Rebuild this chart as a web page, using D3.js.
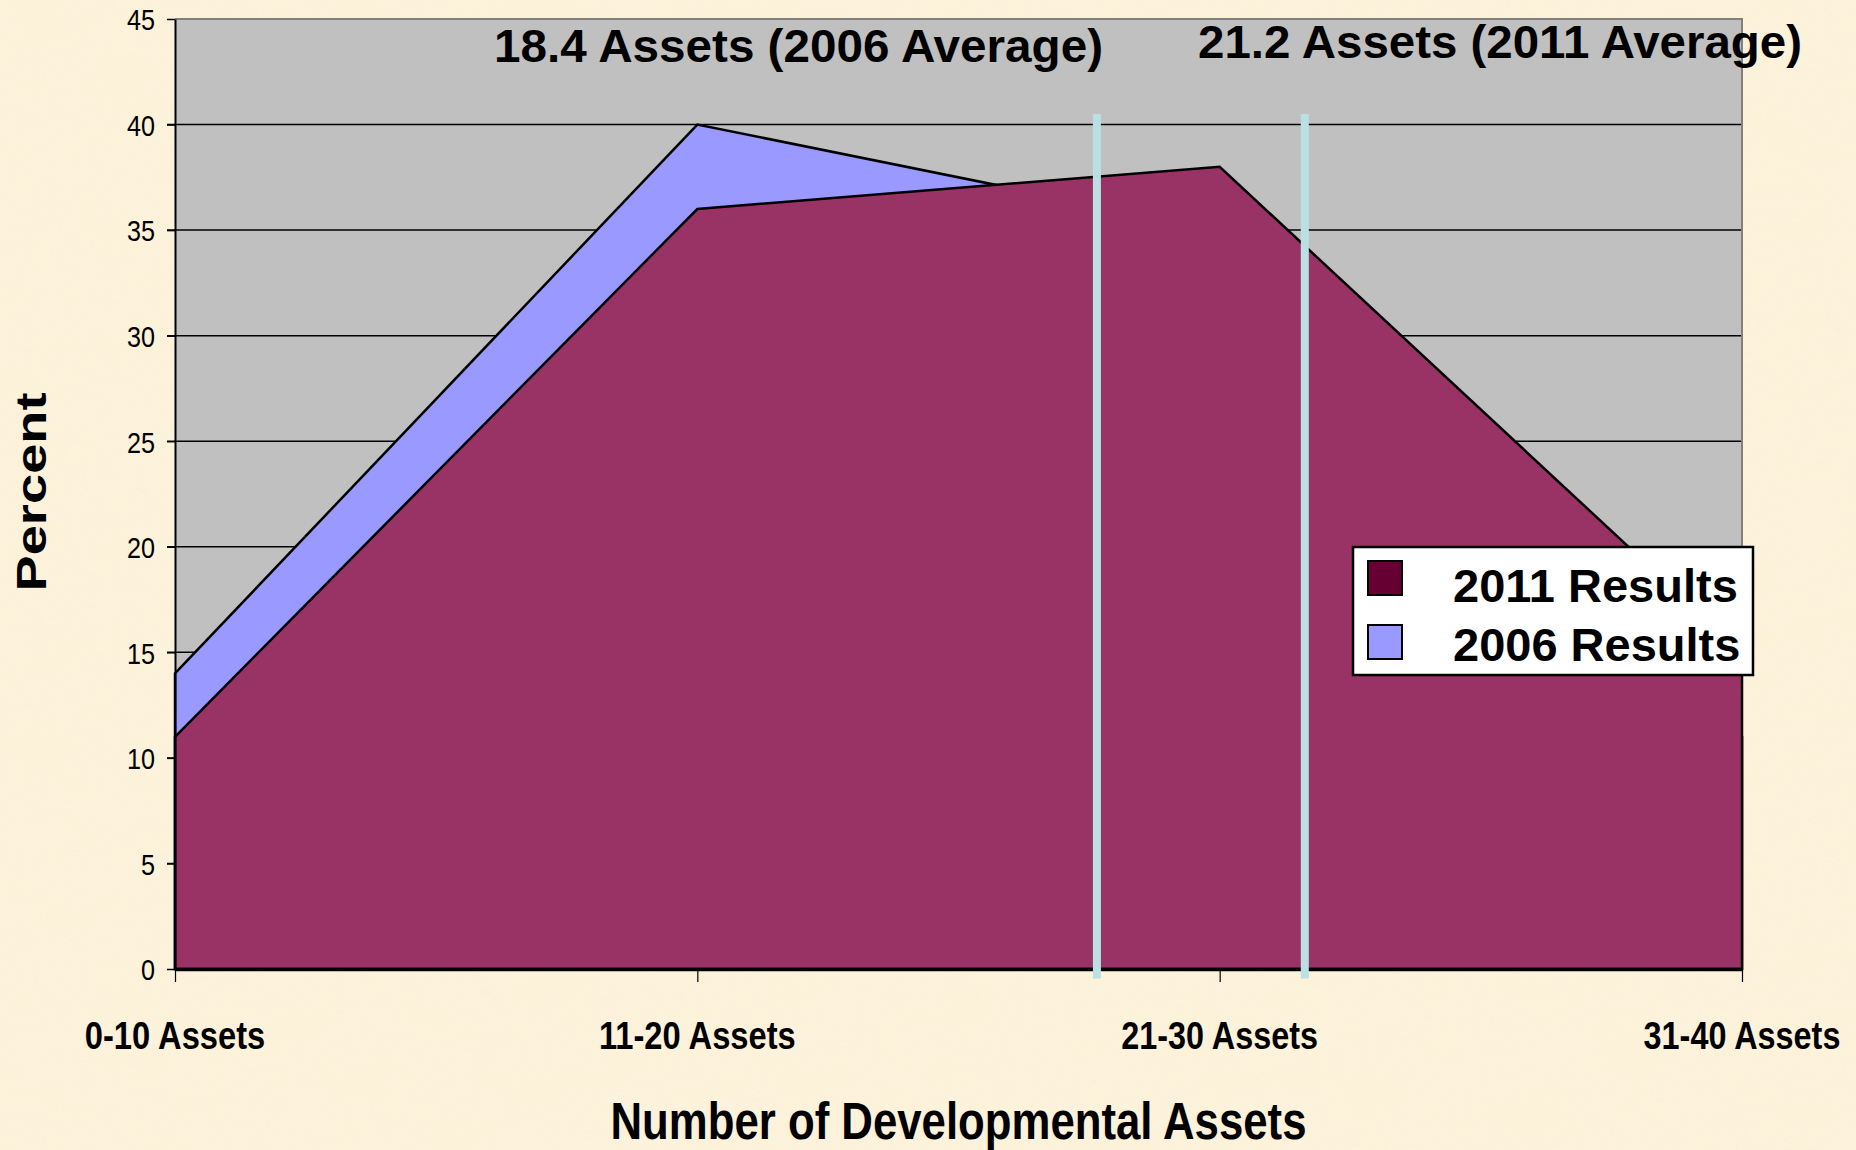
<!DOCTYPE html>
<html><head><meta charset="utf-8">
<script src="https://cdn.jsdelivr.net/npm/d3@7"></script>
<style>
html,body{margin:0;padding:0;background:#FCF1D9;}
svg{display:block;}
</style></head>
<body>
<script>
// ---- data ----
const categories = ["0-10 Assets", "11-20 Assets", "21-30 Assets", "31-40 Assets"];
const results2006 = [14, 40, 35, 11];
const results2011 = [11, 36, 38, 15];
const yTicks = [0, 5, 10, 15, 20, 25, 30, 35, 40, 45];
const seriesNames = ["2011 Results", "2006 Results"];
const avgLabels = ["18.4 Assets (2006 Average)", "21.2 Assets (2011 Average)"];
// average marker positions, in category-index units
const avgMarkers = [1.765, 2.163];

const W = 1856, H = 1150;
const m = {left: 175, right: 1742, top: 19, bottom: 969};

const svg = d3.select("body").append("svg").attr("width", W).attr("height", H);

// subtle parchment background
const defs = svg.append("defs");
const flt = defs.append("filter").attr("id","paper").attr("x",0).attr("y",0).attr("width","100%").attr("height","100%");
flt.append("feTurbulence").attr("type","fractalNoise").attr("baseFrequency","0.012 0.03").attr("numOctaves",3).attr("seed",4).attr("result","n");
flt.append("feColorMatrix").attr("in","n").attr("type","matrix")
  .attr("values","0 0 0 0 0.99  0 0 0 0 0.92  0 0 0 0 0.76  0 0 0 0.4 0");
svg.append("rect").attr("width",W).attr("height",H).attr("fill","#FCF1D9");
svg.append("rect").attr("width",W).attr("height",H).attr("filter","url(#paper)").attr("opacity",0.6);

const x = d3.scalePoint().domain(d3.range(categories.length)).range([m.left, m.right]).padding(0);
const xi = d3.scaleLinear().domain([0, categories.length - 1]).range([m.left, m.right]);
const y = d3.scaleLinear().domain([0, 45]).range([m.bottom, m.top]);

// plot area
svg.append("rect").attr("x", m.left).attr("y", m.top)
  .attr("width", m.right - m.left).attr("height", m.bottom - m.top)
  .attr("fill", "#C0C0C0");

// gridlines
svg.append("g").selectAll("line").data(yTicks.filter(d => d > 0 && d < 45)).join("line")
  .attr("x1", m.left - 8).attr("x2", m.right)
  .attr("y1", d => y(d)).attr("y2", d => y(d))
  .attr("stroke", "#000").attr("stroke-width", 1.5);

// plot border top/right
svg.append("path")
  .attr("d", `M${m.left},${m.top}H${m.right}V${m.bottom}`)
  .attr("fill","none").attr("stroke","#808080").attr("stroke-width",2);

// areas
const area = d3.area().x((d,i) => x(i)).y0(y(0)).y1(d => y(d));
svg.append("path").attr("d", area(results2006))
  .attr("fill", "#9999FF").attr("stroke", "#000").attr("stroke-width", 2.5);
svg.append("path").attr("d", area(results2011))
  .attr("fill", "#993366").attr("stroke", "#000").attr("stroke-width", 2.5);

const narrow = "'Liberation Sans Narrow','Arial Narrow',sans-serif";

// y axis
const yAxis = d3.axisLeft(y).tickValues(yTicks).tickSize(8).tickSizeOuter(0).tickPadding(12);
const gy = svg.append("g").attr("transform", `translate(${m.left},0)`).call(yAxis);
gy.select(".domain").attr("stroke","#000").attr("stroke-width",2);
gy.selectAll(".tick line").attr("stroke","#000").attr("stroke-width",1.5);
gy.selectAll(".tick text")
  .attr("font-family", narrow)
  .attr("font-size", 30).attr("fill","#000").attr("dy","0.36em")
  .attr("textLength", d => String(d).length * 14).attr("lengthAdjust","spacingAndGlyphs");

// x axis
const xAxis = d3.axisBottom(x).tickSize(13).tickSizeOuter(0).tickFormat(() => "");
const gx = svg.append("g").attr("transform", `translate(0,${m.bottom})`).call(xAxis);
gx.select(".domain").attr("stroke","#000").attr("stroke-width",3.5);
gx.selectAll(".tick line").attr("stroke","#000").attr("stroke-width",1.2);

// x tick labels
svg.append("g").selectAll("text").data(categories).join("text")
  .attr("x", (d,i) => x(i)).attr("y", 1049)
  .attr("text-anchor","middle")
  .attr("font-family", narrow)
  .attr("font-weight","bold").attr("font-size", 39)
  .attr("textLength", d => d.length * 16.4).attr("lengthAdjust","spacingAndGlyphs")
  .attr("fill","#000").text(d => d);

// average vertical lines
svg.append("g").selectAll("line").data(avgMarkers).join("line")
  .attr("x1", d => xi(d)).attr("x2", d => xi(d))
  .attr("y1", y(40.5)).attr("y2", y(-0.45))
  .attr("stroke", "#BBE0E3").attr("stroke-width", 8);

// average annotations
const annPos = [{x: 494, y: 62, w: 609}, {x: 1198, y: 58, w: 604}];
svg.append("g").selectAll("text").data(avgLabels).join("text")
  .attr("x", (d,i) => annPos[i].x).attr("y", (d,i) => annPos[i].y)
  .attr("font-family","'Liberation Sans',Arial,sans-serif")
  .attr("font-weight","bold").attr("font-size", 47)
  .attr("textLength", (d,i) => annPos[i].w).attr("lengthAdjust","spacingAndGlyphs")
  .attr("fill","#000").text(d => d);

// axis titles
svg.append("text")
  .attr("x", (m.left + m.right)/2).attr("y", 1139)
  .attr("text-anchor","middle")
  .attr("font-family", narrow)
  .attr("font-weight","bold").attr("font-size", 51)
  .attr("textLength", 696).attr("lengthAdjust","spacingAndGlyphs")
  .attr("fill","#000").text("Number of Developmental Assets");

svg.append("text")
  .attr("transform", "translate(46,492) rotate(-90)")
  .attr("text-anchor","middle")
  .attr("font-family","'Liberation Sans',Arial,sans-serif")
  .attr("font-weight","bold").attr("font-size", 42)
  .attr("textLength", 199).attr("lengthAdjust","spacingAndGlyphs")
  .attr("fill","#000").text("Percent");

// legend
const lg = svg.append("g").attr("transform","translate(1353,547)");
lg.append("rect").attr("width",400).attr("height",128)
  .attr("fill","#fff").attr("stroke","#000").attr("stroke-width",2.5);
const legColors = ["#660033", "#9999FF"];
const li = lg.selectAll("g.item").data(seriesNames).join("g").attr("class","item")
  .attr("transform",(d,i)=>`translate(0,${i*64})`);
li.append("rect").attr("x",15).attr("y",14).attr("width",34).attr("height",34)
  .attr("fill",(d,i)=>legColors[i]).attr("stroke","#000").attr("stroke-width",2);
li.append("text").attr("x",100).attr("y",(d,i)=> i===0 ? 55 : 50)
  .attr("font-family","'Liberation Sans',Arial,sans-serif")
  .attr("font-weight","bold").attr("font-size",47).attr("fill","#000")
  .text(d=>d);
</script>
</body></html>
